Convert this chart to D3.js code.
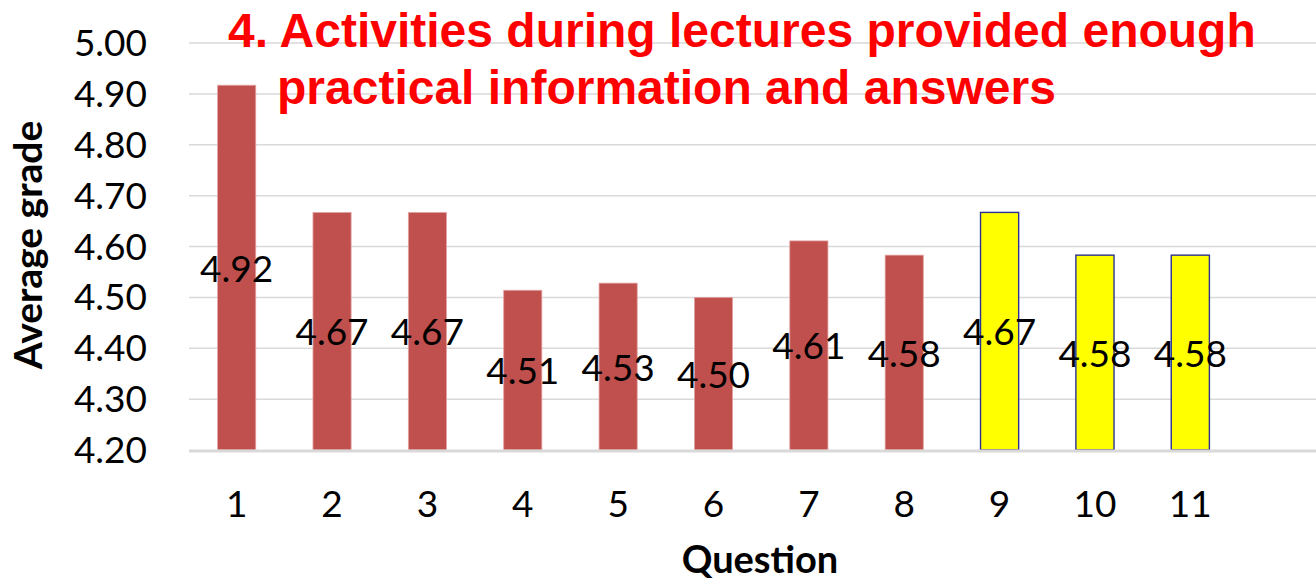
<!DOCTYPE html>
<html>
<head>
<meta charset="utf-8">
<script src="https://cdn.jsdelivr.net/npm/d3@7"></script>
<style>
  html, body { margin: 0; padding: 0; background: #fff; }
  svg { display: block; }
</style>
</head>
<body>
<svg id="chart" width="1316" height="582"></svg>
<script>
// ---- data ----
const categories = ["1","2","3","4","5","6","7","8","9","10","11"];
const values = [4.917, 4.667, 4.667, 4.514, 4.528, 4.500, 4.611, 4.583, 4.667, 4.583, 4.583];
const highlighted = [false,false,false,false,false,false,false,false,true,true,true];
const yTicks = [4.20, 4.30, 4.40, 4.50, 4.60, 4.70, 4.80, 4.90, 5.00];
const titleLines = ["4. Activities during lectures provided enough", "practical information and answers"];
const xTitle = "Question";
const yTitle = "Average grade";

// ---- layout ----
const svg = d3.select("#chart");
const plotLeft = 189, plotRight = 1316, plotTop = 43, plotBottom = 450;

const x = d3.scaleBand().domain(categories).range([plotLeft, 1238]).padding(0);
const y = d3.scaleLinear().domain([4.2, 5.0]).range([plotBottom, plotTop]);
const barW = x.bandwidth() * 0.4;

// gridlines
svg.append("g").selectAll("line")
  .data(yTicks.filter(t => t > 4.2))
  .join("line")
  .attr("x1", plotLeft).attr("x2", plotRight)
  .attr("y1", d => y(d)).attr("y2", d => y(d))
  .attr("stroke", "#d9d9d9").attr("stroke-width", 1.5);

// y tick labels
svg.append("g").selectAll("text")
  .data(yTicks)
  .join("text")
  .attr("x", 147).attr("y", d => y(d) + 13)
  .attr("text-anchor", "end")
  .attr("font-family", "Lato, sans-serif")
  .attr("font-size", 37)
  .attr("fill", "#000")
  .text(d => d.toFixed(2));

// bars
const data = categories.map((c, i) => ({c, v: values[i], h: highlighted[i]}));
svg.append("g").selectAll("rect")
  .data(data)
  .join("rect")
  .attr("x", d => x(d.c) + x.bandwidth() / 2 - barW / 2)
  .attr("width", barW)
  .attr("y", d => y(d.v))
  .attr("height", d => y(4.2) - y(d.v))
  .attr("fill", d => d.h ? "#ffff00" : "#c0504d")
  .attr("stroke", d => d.h ? "#2e3192" : "#e3a3a1")
  .attr("stroke-width", d => d.h ? 1.4 : 0.8);

// x axis baseline
svg.append("line")
  .attr("x1", plotLeft).attr("x2", plotRight)
  .attr("y1", y(4.2) + 1).attr("y2", y(4.2) + 1)
  .attr("stroke", "#d9d9d9").attr("stroke-width", 3);

// value labels (centered in bar)
svg.append("g").selectAll("text")
  .data(data)
  .join("text")
  .attr("x", d => x(d.c) + x.bandwidth() / 2)
  .attr("y", d => (y(d.v) + y(4.2)) / 2 + 14)
  .attr("text-anchor", "middle")
  .attr("font-family", "Lato, sans-serif")
  .attr("font-size", 37)
  .attr("fill", "#000")
  .text(d => d.v.toFixed(2));

// x tick labels
svg.append("g").selectAll("text")
  .data(categories)
  .join("text")
  .attr("x", d => x(d) + x.bandwidth() / 2)
  .attr("y", 517)
  .attr("text-anchor", "middle")
  .attr("font-family", "Lato, sans-serif")
  .attr("font-size", 37)
  .attr("fill", "#000")
  .text(d => d);

// axis titles
svg.append("text")
  .attr("x", 760).attr("y", 573)
  .attr("text-anchor", "middle")
  .attr("font-family", "Lato, sans-serif")
  .attr("font-weight", "bold")
  .attr("font-size", 38)
  .attr("fill", "#000")
  .text(xTitle);

svg.append("text")
  .attr("transform", "translate(42,245) rotate(-90)")
  .attr("text-anchor", "middle")
  .attr("font-family", "Lato, sans-serif")
  .attr("font-weight", "bold")
  .attr("font-size", 39)
  .attr("fill", "#000")
  .text(yTitle);

// title
const titleX = [228, 277], titleY = [47, 104];
svg.append("g").selectAll("text")
  .data(titleLines)
  .join("text")
  .attr("x", (d, i) => titleX[i])
  .attr("y", (d, i) => titleY[i])
  .attr("font-family", "'Liberation Sans', Arial, sans-serif")
  .attr("font-weight", "bold")
  .attr("font-size", 48)
  .attr("fill", "#ff0000")
  .text(d => d);
</script>
</body>
</html>
